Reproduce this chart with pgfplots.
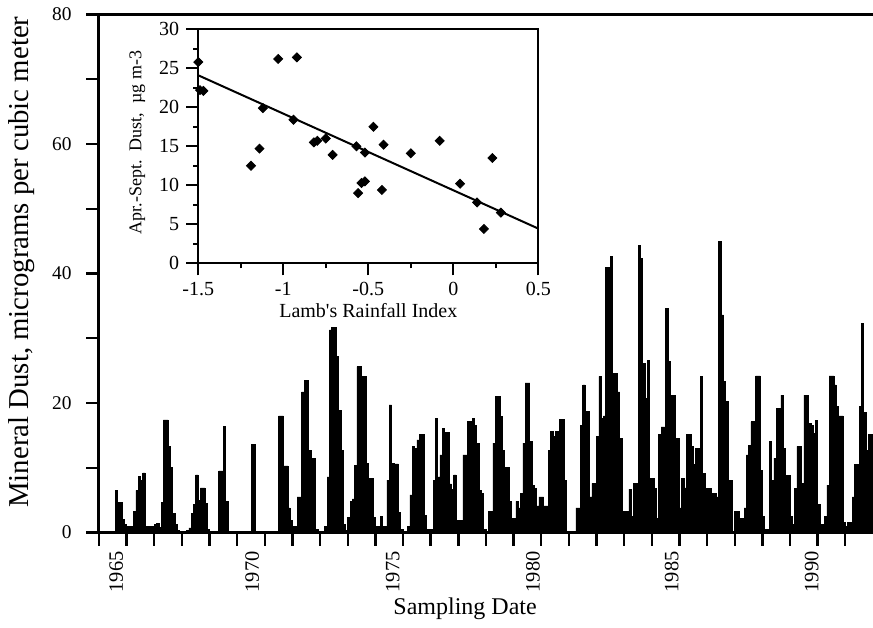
\documentclass[border=0pt]{standalone}
\usepackage{pgfplots}
\usepackage{pgfplotstable}
\pgfplotsset{compat=1.18}
\usepackage{fontspec}
\setmainfont{Liberation Serif}

% monthly mineral dust, Jan 1965 -- Dec 1992 (one row per month)
\pgfplotstableread[row sep=\\]{
v\\
0\\0\\0\\0\\0\\0\\0\\6.5\\4.6\\4.6\\2.0\\1.2\\
1.0\\1.0\\1.0\\3.2\\6.5\\8.7\\8.0\\9.2\\1.0\\1.0\\1.0\\1.0\\
1.2\\1.4\\0.8\\4.6\\17.4\\17.4\\13.3\\10.0\\3.0\\1.2\\0.3\\0\\
0\\0\\0.3\\0.7\\2.9\\4.3\\8.9\\5.0\\6.9\\6.9\\4.5\\0.5\\
0\\0\\0\\0\\9.5\\9.5\\16.4\\4.8\\0\\0\\0\\0\\
0\\0\\0\\0\\0\\0\\13.6\\13.6\\0\\0\\0\\0\\
0\\0\\0\\0\\0\\0\\18.0\\18.0\\10.3\\10.3\\3.8\\1.9\\
0.9\\0.9\\5.5\\5.5\\21.7\\23.5\\23.5\\12.7\\11.5\\11.5\\0.5\\0\\
0\\0\\1.0\\8.6\\31.3\\31.7\\31.7\\27.2\\18.9\\12.7\\1.3\\0.3\\
2.3\\4.8\\5.2\\10.4\\25.6\\25.6\\24.1\\24.1\\10.7\\8.4\\8.4\\2.3\\
0.9\\0.9\\2.5\\0.9\\0.9\\8.1\\19.7\\10.7\\10.6\\10.6\\3.1\\0.5\\
0.2\\0.2\\0.9\\5.8\\13.3\\13.0\\14.3\\15.1\\15.1\\2.7\\0.5\\0.5\\
0.5\\8.1\\17.6\\8.6\\12.0\\16.1\\15.5\\15.5\\7.5\\6.6\\8.9\\1.9\\
1.9\\1.9\\12.0\\12.0\\17.1\\17.1\\17.6\\16.6\\13.8\\6.5\\6.1\\0.5\\
0\\3.2\\3.2\\13.8\\21.0\\21.0\\17.9\\12.7\\10.1\\10.1\\4.8\\2.2\\
2.2\\4.8\\3.8\\6.1\\13.8\\23.1\\23.1\\14.1\\7.3\\6.8\\4.1\\5.5\\
5.5\\4.1\\4.1\\12.7\\15.6\\14.8\\15.6\\15.6\\17.5\\17.5\\8.0\\0\\
0\\0\\0\\3.8\\3.8\\16.6\\22.8\\18.7\\18.7\\5.5\\7.6\\7.6\\
14.8\\24.1\\17.6\\18.0\\41.0\\41.0\\42.6\\24.6\\24.6\\21.7\\14.5\\3.2\\
3.2\\3.2\\6.7\\2.5\\7.6\\7.6\\44.4\\42.3\\26.1\\20.7\\26.6\\8.4\\
8.4\\6.8\\2.2\\15.1\\16.3\\16.3\\34.6\\26.4\\21.2\\21.2\\14.5\\14.5\\
3.8\\8.4\\6.9\\15.1\\15.1\\13.3\\10.5\\13.0\\13.0\\24.1\\9.1\\6.8\\
6.8\\6.8\\6.1\\6.1\\5.5\\44.9\\33.6\\23.3\\20.2\\8.1\\8.1\\0\\
3.2\\3.2\\2.2\\2.2\\3.8\\12.0\\13.5\\17.1\\17.1\\24.2\\24.2\\9.6\\
2.5\\0.5\\0.5\\14.1\\8.1\\11.5\\19.2\\19.2\\21.2\\13.0\\8.8\\8.8\\
2.5\\1.2\\6.8\\13.3\\13.3\\7.6\\21.2\\21.2\\16.8\\16.6\\15.3\\17.3\\
4.4\\1.2\\1.2\\2.5\\7.3\\24.2\\24.2\\22.8\\19.5\\18.0\\18.0\\1.5\\
1.0\\1.5\\1.5\\5.5\\10.5\\10.5\\19.5\\32.3\\18.5\\12.7\\15.1\\15.1\\
15.1\\
}\dust

% inset: Lamb's rainfall index vs Apr.-Sept. dust
\pgfplotstableread{
x y
-1.50 25.8
-1.49 22.2
-1.47 22.1
-1.03 26.2
-0.92 26.4
-1.12 19.9
-0.94 18.4
-1.19 12.5
-1.14 14.7
-0.82 15.5
-0.80 15.7
-0.75 16.0
-0.71 13.9
-0.57 15.0
-0.52 14.2
-0.47 17.5
-0.41 15.2
-0.56 9.0
-0.54 10.3
-0.52 10.5
-0.42 9.4
-0.25 14.1
-0.08 15.7
0.04 10.2
0.14 7.8
0.18 4.4
0.23 13.5
0.28 6.5
}\lamb

\begin{document}
\begin{tikzpicture}
\begin{axis}[
  name=main,
  at={(0,0)}, anchor=south west,
  scale only axis,
  width=387pt, height=259pt,
  xmin=1965, xmax=1993,
  ymin=0, ymax=80,
  axis x line*=box,
  axis y line*=left,
  xtick pos=left,
  ytick pos=left,
  xtick={1965,...,1992},
  xticklabels={},
  extra x ticks={1965.62,1970.54,1975.63,1980.7,1985.72,1990.78},
  extra x tick labels={1965,1970,1975,1980,1985,1990},
  extra x tick style={major tick length=0pt},
  xticklabel style={yshift=-6pt, rotate=90, anchor=east, font=\fontsize{10.2}{12}\selectfont},
  ytick={0,10,...,80},
  yticklabels={0,,20,,40,,60,,80},
  yticklabel style={inner sep=1.5pt, xshift=-5.5pt},
  tick align=outside,
  major tick length=6.5pt,
  tick style={black, line width=1.2pt},
  axis line style={black, line width=1.5pt},
  tick label style={font=\fontsize{9.7}{11}\selectfont},
  /pgf/number format/assume math mode=true,
  xlabel={Sampling Date},
  xlabel style={at={(axis description cs:0.473,0)}, anchor=north, yshift=-29pt,
    font=\fontsize{12}{14}\selectfont},
  ylabel={Mineral Dust, micrograms per cubic meter},
  ylabel style={at={(axis description cs:-0.0995,0.522)}, anchor=center,
    font=\fontsize{14.4}{16}\selectfont},
]
\addplot[fill=black, draw=black, line width=0.3pt, const plot mark left]
  table[x expr=1965+\coordindex/12, y=v] {\dust} \closedcycle;
\end{axis}

\begin{axis}[
  at={(49.65pt,134.6pt)}, anchor=south west,
  scale only axis,
  width=170pt, height=117pt,
  xmin=-1.5, xmax=0.5,
  ymin=0, ymax=30,
  xtick={-1.5,-1,-0.5,0,0.5},
  ytick={0,5,...,30},
  minor x tick num=1,
  minor y tick num=1,
  xtick pos=left,
  ytick pos=left,
  tick align=outside,
  major tick length=6pt,
  minor tick length=2.5pt,
  tick style={black, line width=0.9pt},
  axis line style={black, line width=1pt},
  axis background/.style={fill=white},
  tick label style={font=\fontsize{10}{12}\selectfont},
  /pgf/number format/assume math mode=true,
  xlabel={Lamb\textquotesingle s Rainfall Index},
  xlabel style={font=\fontsize{10}{12}\selectfont, yshift=3pt},
  ylabel={Apr.-Sept.\ \ Dust,\ \ µg m-3},
  ylabel style={at={(axis description cs:-0.179,0.516)}, anchor=center,
    font=\fontsize{9}{11}\selectfont},
]
\addplot[only marks, mark=square*, mark size=1.6pt, mark options={rotate=45, fill=black}]
  table[x=x, y=y] {\lamb};
\addplot[black, line width=1pt] coordinates {(-1.5,24.1) (0.5,4.45)};
\end{axis}

\pgfresetboundingbox
\useasboundingbox (-49.5pt,-47.25pt) rectangle (387pt,266.25pt);
\end{tikzpicture}
\end{document}
